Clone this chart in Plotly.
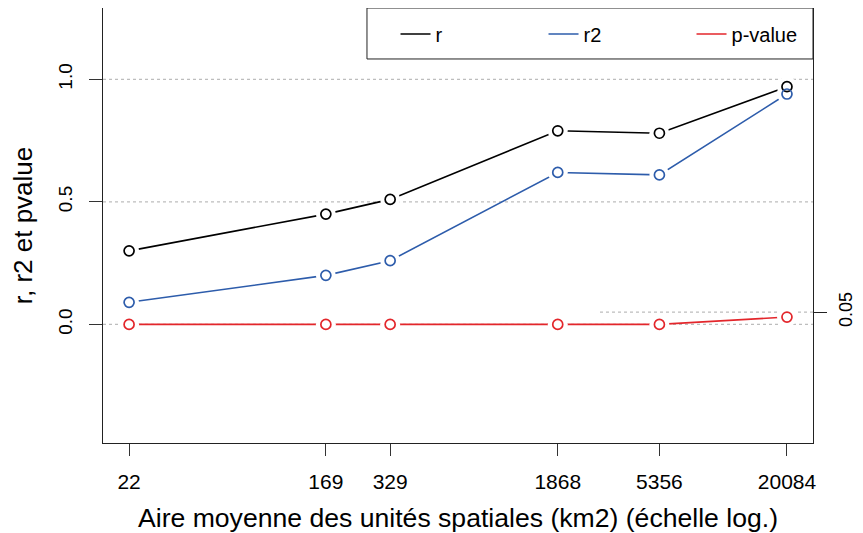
import plotly.graph_objects as go

areas = [22, 169, 329, 1868, 5356, 20084]
tick_labels = ["22", "169", "329", "1868", "5356", "20084"]
r_vals = [0.30, 0.45, 0.51, 0.79, 0.78, 0.97]
r2_vals = [0.09, 0.20, 0.26, 0.62, 0.61, 0.94]
p_vals = [0.0, 0.0, 0.0, 0.0, 0.0, 0.03]
series_names = ["r", "r2", "p-value"]
series_colors = ["#000000", "#2d5cab", "#e3262b"]
series_values = [r_vals, r2_vals, p_vals]

FONT = "Liberation Sans, Arial, sans-serif"

fig = go.Figure()

# lines
for name, col, vals in zip(series_names, series_colors, series_values):
    fig.add_trace(go.Scatter(x=areas, y=vals, mode="lines", name=name,
                             line=dict(color=col, width=1.6), showlegend=True))
# white masks to create gaps around points (R type="b")
for name, col, vals in zip(series_names, series_colors, series_values):
    fig.add_trace(go.Scatter(x=areas, y=vals, mode="markers", showlegend=False,
                             marker=dict(color="white", size=20, line=dict(width=0)),
                             hoverinfo="skip"))
# open circles
for name, col, vals in zip(series_names, series_colors, series_values):
    fig.add_trace(go.Scatter(x=areas, y=vals, mode="markers", showlegend=False,
                             marker=dict(symbol="circle-open", color=col, size=10,
                                         line=dict(width=1.7, color=col))))

# right axis for 0.05 threshold
fig.add_trace(go.Scatter(x=[areas[0]], y=[0.05], yaxis="y2", mode="markers",
                         marker=dict(opacity=0), showlegend=False, hoverinfo="skip"))

yr = [-0.484, 1.291]
# the page body has an 8px margin, so the figure is 8px smaller than the window
fig.update_layout(
    width=855, height=525,
    margin=dict(l=95, r=50, t=0, b=90, autoexpand=False),
    paper_bgcolor="white", plot_bgcolor="white",
    font=dict(family=FONT, size=18, color="black"),
    xaxis=dict(type="log", range=[1.225, 4.420], tickvals=areas, ticktext=tick_labels,
               ticks="outside", ticklen=12, tickcolor="#333", tickwidth=1,
               showgrid=False, zeroline=False, automargin=False,
               showline=True, linecolor="#222", linewidth=1, mirror=True,
               tickfont=dict(family=FONT, size=21),
               ticklabelstandoff=8,
               title=dict(text="Aire moyenne des unités spatiales (km2) (échelle log.)",
                          font=dict(family=FONT, size=26.6), standoff=18)),
    yaxis=dict(range=yr, tickvals=[-0.5, 0.0, 0.5, 1.0], ticktext=["-0.5", "0.0", "0.5", "1.0"],
               tickangle=-90, ticks="outside", ticklen=13, tickcolor="#333",
               showgrid=False, zeroline=False, automargin=False,
               showline=True, linecolor="#222", linewidth=1, mirror=True,
               tickfont=dict(family=FONT, size=19), ticklabelstandoff=9,
               title=dict(text="r, r2 et pvalue", font=dict(family=FONT, size=26), standoff=16)),
    yaxis2=dict(range=yr, overlaying="y", side="right", tickvals=[0.05], ticktext=["0.05"],
                tickangle=-90, ticks="outside", ticklen=13, tickcolor="#222",
                showgrid=False, zeroline=False, showline=False, automargin=False,
                tickfont=dict(family=FONT, size=18), ticklabelstandoff=3),
    legend=dict(orientation="h", x=0.412, xanchor="left", y=0.985, yanchor="top",
                borderwidth=0, bgcolor="rgba(0,0,0,0)",
                entrywidth=103, font=dict(family=FONT, size=20)),
    showlegend=True,
)

# dotted reference lines
for yv in [0.0, 0.5, 1.0]:
    fig.add_shape(type="line", xref="paper", yref="y", x0=0, x1=1, y0=yv, y1=yv,
                  line=dict(color="#bdbdbd", width=1.2, dash="dot"), layer="below")
fig.add_shape(type="line", xref="paper", yref="y", x0=0.70, x1=1, y0=0.05, y1=0.05,
              line=dict(color="#bdbdbd", width=1.2, dash="dot"), layer="below")
# legend box
fig.add_shape(type="rect", xref="paper", yref="paper", x0=0.3718, x1=1, y0=0.8828, y1=1,
              line=dict(color="#222", width=1), fillcolor="white", layer="above")

fig.write_html("out.html")
